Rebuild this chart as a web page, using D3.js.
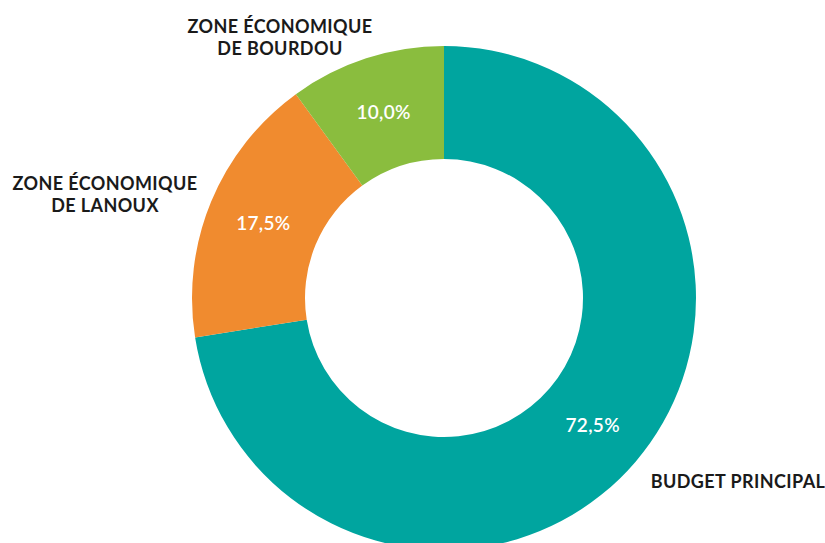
<!DOCTYPE html>
<html>
<head>
<meta charset="utf-8">
<script src="https://cdn.jsdelivr.net/npm/d3@7"></script>
<style>
  body { margin: 0; background: #fff; }
  svg { display: block; }
  .cat { font-family: "Lato", sans-serif; font-weight: 700; font-size: 18px; letter-spacing: 0.4px; fill: #1a1a1a; }
  .pct { font-family: "Lato", sans-serif; font-weight: 600; font-size: 19px; letter-spacing: 0.3px; fill: #fff; }
</style>
</head>
<body>
<svg width="825" height="543"></svg>
<script>
var categories = ["BUDGET PRINCIPAL", "ZONE ÉCONOMIQUE DE LANOUX", "ZONE ÉCONOMIQUE DE BOURDOU"];
var values = [72.5, 17.5, 10.0];
var colors = ["#00A59F", "#F08B2F", "#8ABD3E"];
var labelLines = [["BUDGET PRINCIPAL"], ["ZONE ÉCONOMIQUE", "DE LANOUX"], ["ZONE ÉCONOMIQUE", "DE BOURDOU"]];

var svg = d3.select("svg");
var cx = 444, cy = 298, outerR = 252, innerR = 139;

var data = categories.map(function (c, i) {
  return { name: c, value: values[i], color: colors[i], lines: labelLines[i] };
});

var pie = d3.pie().sort(null).value(function (d) { return d.value; });
var arc = d3.arc().innerRadius(innerR).outerRadius(outerR);
var arcs = pie(data);

var g = svg.append("g").attr("transform", "translate(" + cx + "," + cy + ")");

g.selectAll("path.slice")
  .data(arcs)
  .enter()
  .append("path")
  .attr("class", "slice")
  .attr("d", arc)
  .style("fill", function (d) { return d.data.color; });

g.selectAll("text.pct")
  .data(arcs)
  .enter()
  .append("text")
  .attr("class", "pct")
  .attr("text-anchor", "middle")
  .attr("dy", "0.35em")
  .attr("transform", function (d) {
    var c = arc.centroid(d);
    return "translate(" + c[0] + "," + c[1] + ")";
  })
  .text(function (d) { return d.data.value.toFixed(1).replace(".", ",") + "%"; });

// category labels outside the ring
var labelPos = [[738, 488], [105, 190], [280, 33]];

svg.selectAll("text.cat")
  .data(arcs)
  .enter()
  .append("text")
  .attr("class", "cat")
  .attr("text-anchor", "middle")
  .attr("x", function (d, i) { return labelPos[i][0]; })
  .attr("y", function (d, i) { return labelPos[i][1]; })
  .each(function (d, i) {
    var t = d3.select(this);
    d.data.lines.forEach(function (line, j) {
      t.append("tspan")
        .attr("x", labelPos[i][0])
        .attr("dy", j === 0 ? 0 : 22)
        .text(line);
    });
  });
</script>
</body>
</html>
